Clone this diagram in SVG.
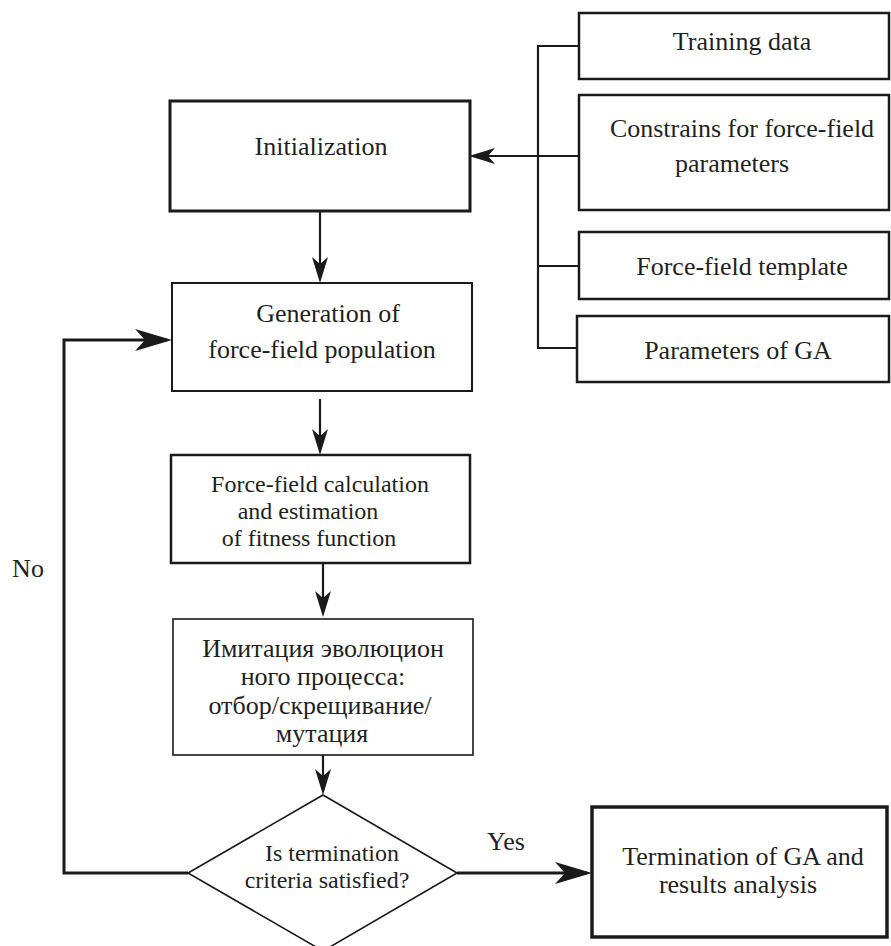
<svg xmlns="http://www.w3.org/2000/svg" width="891" height="946" viewBox="0 0 891 946">
<defs>
<style>
.box{fill:#fff;stroke:#1a1a1a}
.t{font-family:'Liberation Serif','Times New Roman','DejaVu Serif',serif;font-size:26px;fill:#1f1f1f;text-anchor:middle}
.s{font-size:24px}
.ln{fill:none;stroke:#1a1a1a;stroke-width:2.2}
.lnb{fill:none;stroke:#1a1a1a;stroke-width:3}
</style>
<marker id="arrS" viewBox="-32 -10 34 20" markerWidth="34" markerHeight="20" refX="-5" refY="0" orient="auto" markerUnits="userSpaceOnUse" overflow="visible">
<path d="M0,0 L-26,-8 L-19,0 L-26,8 Z" fill="#1a1a1a"/>
</marker>
<marker id="arrB" viewBox="-40 -13 42 26" markerWidth="42" markerHeight="26" refX="-5" refY="0" orient="auto" markerUnits="userSpaceOnUse" overflow="visible">
<path d="M0,0 L-37,-11 L-27,0 L-37,11 Z" fill="#1a1a1a"/>
</marker>
</defs>
<rect width="891" height="946" fill="#fff"/>
<g id="connectors">
<path class="ln" d="M579,46 H538 V348 H577 M538,266 H579"/>
<path class="ln" d="M579,156 H474" marker-end="url(#arrS)"/>
<path class="ln" d="M320,211 V278" marker-end="url(#arrS)"/>
<path class="ln" d="M320,399 V450" marker-end="url(#arrS)"/>
<path class="ln" d="M323,563 V612" marker-end="url(#arrS)"/>
<path class="ln" d="M323,755 V790" marker-end="url(#arrS)"/>
<path class="lnb" d="M188,873 H64 V340 H167" marker-end="url(#arrB)"/>
<path class="lnb" d="M457,873 H587" marker-end="url(#arrB)"/>
<text class="t" x="28" y="577">No</text>
<text class="t" x="506" y="850">Yes</text>
</g>
<g id="training">
<rect class="box" x="579" y="13" width="310" height="66" stroke-width="2.5"/>
<text class="t" x="742" y="50">Training data</text>
</g>
<g id="constrains">
<rect class="box" x="579" y="95" width="310" height="115" stroke-width="2.5"/>
<text class="t" x="742" y="137">Constrains for force-field</text>
<text class="t" x="732" y="172">parameters</text>
</g>
<g id="template">
<rect class="box" x="579" y="232" width="310" height="67" stroke-width="2.5"/>
<text class="t" x="742" y="275">Force-field template</text>
</g>
<g id="paramsGA">
<rect class="box" x="577" y="316" width="312" height="66" stroke-width="2.5"/>
<text class="t" x="738" y="359">Parameters of GA</text>
</g>
<g id="init">
<rect class="box" x="170" y="101" width="300" height="110" stroke-width="3"/>
<text class="t" x="321" y="155">Initialization</text>
</g>
<g id="generation">
<rect class="box" x="172" y="283" width="300" height="108" stroke-width="2"/>
<text class="t" x="328" y="322">Generation of</text>
<text class="t" x="322" y="358">force-field population</text>
</g>
<g id="ffcalc">
<rect class="box" x="171" y="455" width="299" height="108" stroke-width="2.5"/>
<text class="t s" x="320" y="492">Force-field calculation</text>
<text class="t s" x="308" y="519">and estimation</text>
<text class="t s" x="309" y="546">of fitness function</text>
</g>
<g id="imitation">
<rect class="box" x="173" y="619" width="300" height="136" stroke-width="1.6"/>
<text class="t" x="323" y="657">Имитация эволюцион</text>
<text class="t" x="323" y="685">ного процесса:</text>
<text class="t" x="320" y="714">отбор/скрещивание/</text>
<text class="t" x="322" y="742">мутация</text>
</g>
<g id="decision">
<polygon class="box" points="323,795 457,873 323,951 188,873" stroke-width="1.6"/>
<text class="t s" x="332" y="861">Is termination</text>
<text class="t s" x="327" y="888">criteria satisfied?</text>
</g>
<g id="termination">
<rect class="box" x="592" y="807" width="295" height="130" stroke-width="3.5"/>
<text class="t" x="743" y="865">Termination of GA and</text>
<text class="t" x="738" y="893">results analysis</text>
</g>
</svg>
